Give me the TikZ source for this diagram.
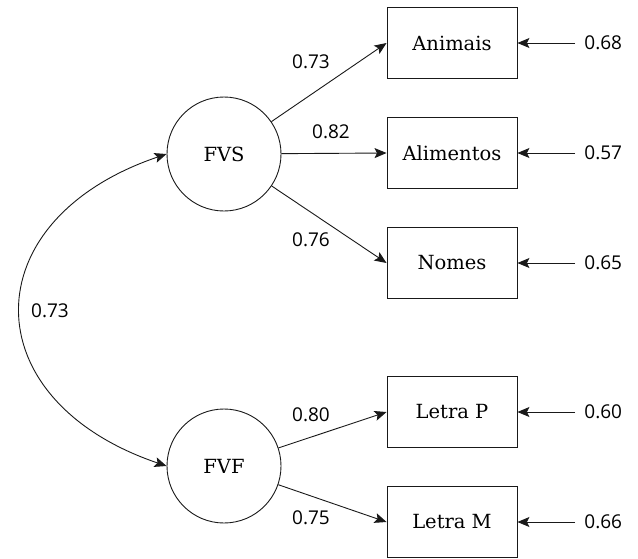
\documentclass[tikz,border=0pt]{standalone}
\usepackage{fontspec}
\setmainfont{DejaVu Serif}
\newfontfamily\numfont{Open Sans}
\usetikzlibrary{arrows.meta}
\begin{document}
\begin{tikzpicture}[x=1pt,y=-1pt,
  line width=0.9pt,
  obs/.style={draw=black!90, rectangle, minimum width=130pt, minimum height=71pt, inner sep=0pt, font=\fontsize{19.5}{22}\selectfont},
  lat/.style={draw=black!90, circle, minimum size=114pt, inner sep=0pt, font=\fontsize{19.5}{22}\selectfont},
  num/.style={inner sep=0pt, font=\numfont\fontsize{19}{22}\selectfont},
  err/.style={inner ysep=0pt, inner xsep=9pt, anchor=west, font=\numfont\fontsize{19}{22}\selectfont},
  arr/.style={draw=black!90, -{Stealth[length=12pt,width=10pt,inset=2.5pt]}},
  arr2/.style={draw=black!90, {Stealth[length=12pt,width=10pt,inset=2.5pt]}-{Stealth[length=12pt,width=10pt,inset=2.5pt]}}]
\useasboundingbox (0,0) rectangle (638,558);
\node[lat] (fvs) at (224,154) {FVS};
\node[lat] (fvf) at (224,466) {FVF};
\node[obs] (an) at (452,43) {Animais};
\node[obs] (al) at (452,153) {Alimentos};
\node[obs] (no) at (452,263) {Nomes};
\node[obs] (lp) at (452,412) {Letra P};
\node[obs] (lm) at (452,522) {Letra M};
\node[err] (e1) at (575,43) {0.68};
\node[err] (e2) at (575,153) {0.57};
\node[err] (e3) at (575,263) {0.65};
\node[err] (e4) at (575,412) {0.60};
\node[err] (e5) at (575,522) {0.66};
\draw[arr] (fvs) -- (an.west);
\draw[arr] (fvs) -- (al.west);
\draw[arr] (fvs) -- (no.west);
\draw[arr] (fvf) -- (lp.west);
\draw[arr] (fvf) -- (lm.west);
\foreach \e/\b in {e1/an,e2/al,e3/no,e4/lp,e5/lm} \draw[arr] (\e.west) -- (\b.east);
\draw[arr2] (fvs.west) .. controls (-28,220) and (-28,400) .. (fvf.west);
\node[num] (l1) at (311,62) {0.73};
\node[num] (l2) at (331,132) {0.82};
\node[num] (l3) at (311,240) {0.76};
\node[num] (l4) at (311,415) {0.80};
\node[num] (l5) at (311,518) {0.75};
\node[num] (lc) at (50,311) {0.73};
\end{tikzpicture}
\end{document}
